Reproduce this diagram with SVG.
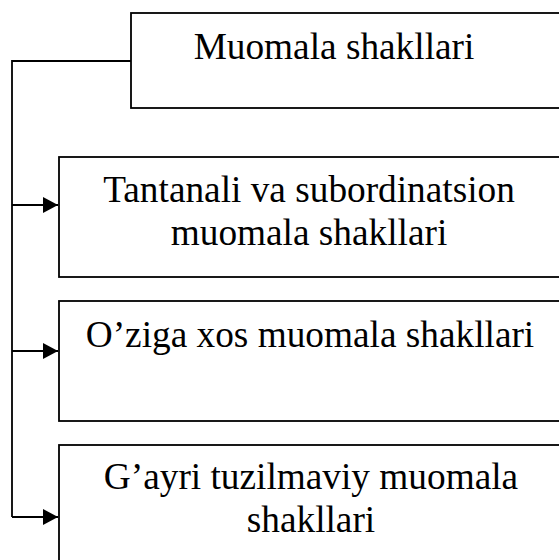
<svg xmlns="http://www.w3.org/2000/svg" width="559" height="560" viewBox="0 0 559 560">
<style>
.box{fill:#fff;stroke:#000;stroke-width:1.8}
.t{font-family:"Liberation Serif","Times New Roman",serif;font-size:37.3px;fill:#000;text-anchor:middle}
.c{fill:none;stroke:#000;stroke-width:1.8}
</style>
<defs>
<marker id="ah" markerUnits="userSpaceOnUse" markerWidth="16" markerHeight="16" refX="15" refY="8" orient="auto">
<path d="M0,0 L15,8 L0,16 Z" fill="#000"/>
</marker>
</defs>
<rect width="559" height="560" fill="#fff"/>
<g id="connectors">
<path class="c" d="M131,61 H12 V517"/>
<path class="c" d="M12,205 H58" marker-end="url(#ah)"/>
<path class="c" d="M12,351 H58" marker-end="url(#ah)"/>
<path class="c" d="M12,517 H58" marker-end="url(#ah)"/>
</g>
<g id="root">
<rect class="box" x="131" y="13" width="470" height="95"/>
<text class="t" x="334" y="59" font-family="Liberation Serif, serif">Muomala shakllari</text>
</g>
<g id="n1">
<rect class="box" x="59" y="157" width="542" height="120"/>
<text class="t" x="309" y="202">Tantanali va subordinatsion</text>
<text class="t" x="309" y="245">muomala shakllari</text>
</g>
<g id="n2">
<rect class="box" x="59" y="301" width="542" height="120"/>
<text class="t" x="310" y="347">O’ziga xos muomala shakllari</text>
</g>
<g id="n3">
<rect class="box" x="59" y="445" width="542" height="130"/>
<text class="t" x="311" y="489">G’ayri tuzilmaviy muomala</text>
<text class="t" x="311" y="532">shakllari</text>
</g>
</svg>
